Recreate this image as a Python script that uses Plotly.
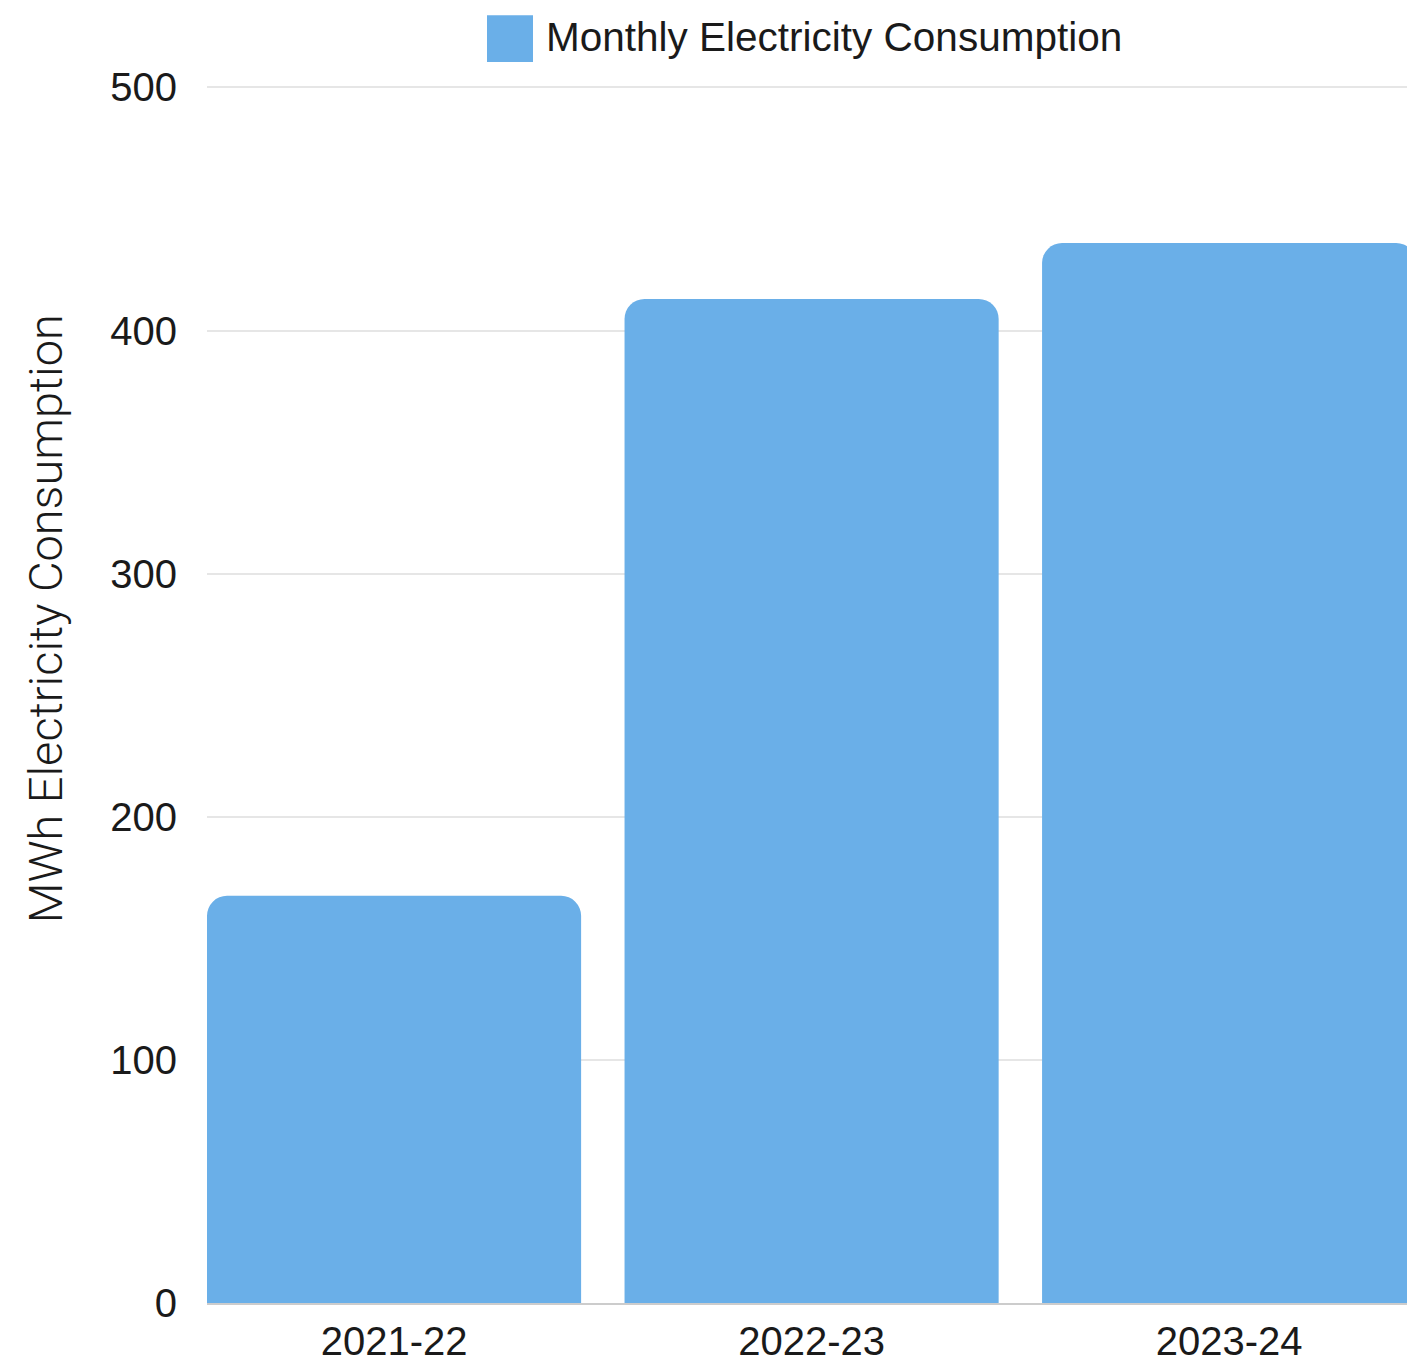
import plotly.graph_objects as go

categories = ["2021-22", "2022-23", "2023-24"]
values = [167.5, 413, 436]
series_name = "Monthly Electricity Consumption"
y_title = "MWh Electricity Consumption"
bar_color = "#6aafe8"

W, H = 1407, 1363
L, R, T, B = 207, 0, 85, 56
pw, ph = W - L - R, H - T - B

def px_x(x):
    return (x - L) / pw

def px_y(y):
    return (H - B - y) / ph

fig = go.Figure()
fig.add_trace(go.Bar(x=categories, y=values, name=series_name,
                     marker=dict(color=bar_color, line=dict(width=0)),
                     showlegend=False))

font = "Liberation Sans, Arial, Helvetica, sans-serif"
fig.update_layout(
    width=W, height=H,
    margin=dict(l=L, r=R, t=T, b=B),
    paper_bgcolor="white", plot_bgcolor="white",
    bargap=0.104,
    barcornerradius=20,
    font=dict(family=font, color="#1a1a1a", size=40),
    xaxis=dict(range=[-0.448, 2.426], showgrid=False, showline=True,
               linecolor="#cccccc", linewidth=2, ticks="", ticklabelstandoff=2,
               tickfont=dict(size=40, color="#1a1a1a")),
    yaxis=dict(range=[0, 501], tickvals=[0, 100, 200, 300, 400, 500],
               showgrid=True, gridcolor="#e6e6e6",
               gridwidth=2, zeroline=False, showline=False, ticks="",
               ticklabelstandoff=29, tickfont=dict(size=40, color="#1a1a1a")),
)

# legend (drawn manually to get large swatch)
fig.add_shape(type="rect", xref="paper", yref="paper",
              x0=px_x(487), x1=px_x(533), y0=px_y(62), y1=px_y(15),
              fillcolor=bar_color, line=dict(width=0))
fig.add_annotation(text=series_name, xref="paper", yref="paper",
                   x=px_x(544), y=px_y(37), xanchor="left", yanchor="middle",
                   showarrow=False, font=dict(size=40.5, color="#1a1a1a", family=font))
# y axis title
fig.add_annotation(text=y_title, xref="paper", yref="paper",
                   x=px_x(45), y=px_y(621), xanchor="center", yanchor="middle",
                   textangle=-90, showarrow=False,
                   font=dict(size=47, color="#1a1a1a",
                             family="Roboto, Liberation Sans, sans-serif", weight=300))

fig.write_html("out.html",
               config={"displayModeBar": False},
               post_script="document.body.style.margin='0';"
                           "document.documentElement.style.overflow='hidden';"
                           "document.body.style.overflow='hidden';")
